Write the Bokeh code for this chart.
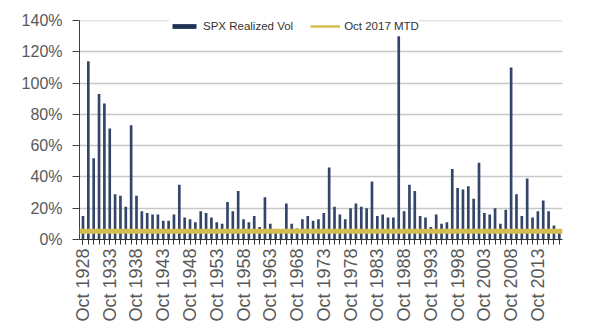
from bokeh.plotting import figure
from bokeh.models import Range1d, FixedTicker, PrintfTickFormatter, Span, Legend, LegendItem
from bokeh.embed import file_html
from bokeh.resources import INLINE
import math

years = list(range(1928, 2018))
realized_vol = [
    15, 114, 52, 93, 87, 71, 29, 28, 21, 73,      # 1928-1937
    28, 18, 17, 16, 16, 12, 12, 16, 35, 14,       # 1938-1947
    13, 11, 18, 17, 14, 11, 10, 24, 18, 31,       # 1948-1957
    13, 11, 15, 8, 27, 10, 5, 5, 23, 10,          # 1958-1967
    7, 13, 15, 12, 13, 17, 46, 21, 16, 13,        # 1968-1977
    20, 23, 21, 20, 37, 15, 16, 14, 14, 130,      # 1978-1987
    18, 35, 31, 15, 14, 8, 16, 10, 11, 45,        # 1988-1997
    33, 32, 34, 26, 49, 17, 16, 20, 10, 19,       # 1998-2007
    110, 29, 15, 39, 14, 18, 25, 18, 9, 5,        # 2008-2017
]
mtd_oct_2017 = 5.3
label_years = list(range(1928, 2018, 5))
y_ticks = [0, 20, 40, 60, 80, 100, 120, 140]

navy = "#33466a"
legend_navy = "#1f3256"
gold = "#d6bd4f"
grey_text = "#595959"

p = figure(width=600, height=332, output_backend="svg", toolbar_location=None,
           x_range=Range1d(1927.35, 2017.6), y_range=Range1d(0, 140),
           min_border_left=79, min_border_right=38, min_border_top=20,
           min_border_bottom=93)
p.outline_line_color = None

p.xgrid.grid_line_color = None
p.ygrid.grid_line_color = None
p.hspan(y=y_ticks[1:], line_color="#c8c8c8", line_width=1.5)

bars = p.vbar(x=years, top=realized_vol, width=0.5, fill_color=navy, line_color=None)
legend_bar = p.vbar(x=[years[0]], top=[0], width=0.0, fill_color=legend_navy, line_color=None)
mtd_line = p.line(x=[years[0], years[-1]], y=[mtd_oct_2017, mtd_oct_2017],
                  line_color=gold, line_width=2.5)

span = Span(location=mtd_oct_2017, dimension="width", line_color=gold, line_width=5)
p.add_layout(span)

xa = p.xaxis[0]
xa.ticker = FixedTicker(ticks=label_years, minor_ticks=years)
xa.major_label_overrides = {y: f"Oct {y}" for y in label_years}
xa.major_label_orientation = math.pi / 2
xa.major_label_text_font = "Liberation Sans"
xa.major_label_text_font_size = "18px"
xa.major_label_text_color = grey_text
xa.major_label_standoff = 4
xa.axis_line_color = "#333333"
xa.major_tick_line_color = "#333333"
xa.minor_tick_line_color = "#333333"
xa.major_tick_in = 0
xa.major_tick_out = 5
xa.minor_tick_in = 0
xa.minor_tick_out = 5

ya = p.yaxis[0]
ya.ticker = FixedTicker(ticks=y_ticks)
ya.formatter = PrintfTickFormatter(format="%d%%")
ya.major_label_text_font = "Liberation Sans"
ya.major_label_text_font_size = "16px"
ya.major_label_text_color = grey_text
ya.major_label_standoff = 10
ya.axis_line_color = "#404040"
ya.major_tick_line_color = "#404040"
ya.major_tick_in = 0
ya.major_tick_out = 7
ya.minor_tick_line_color = None

legend = Legend(items=[LegendItem(label="SPX Realized Vol", renderers=[legend_bar]),
                       LegendItem(label="Oct 2017 MTD", renderers=[mtd_line])],
                orientation="horizontal", location=(90, 207),
                glyph_width=30, glyph_height=6, label_height=12,
                label_text_font="Liberation Sans", label_text_font_size="11.5px",
                label_text_color="#333333", label_standoff=4, spacing=17,
                padding=5, margin=0, border_line_color=None,
                background_fill_color="white", background_fill_alpha=1)
p.add_layout(legend)

open("out.html", "w").write(file_html(p, INLINE))
